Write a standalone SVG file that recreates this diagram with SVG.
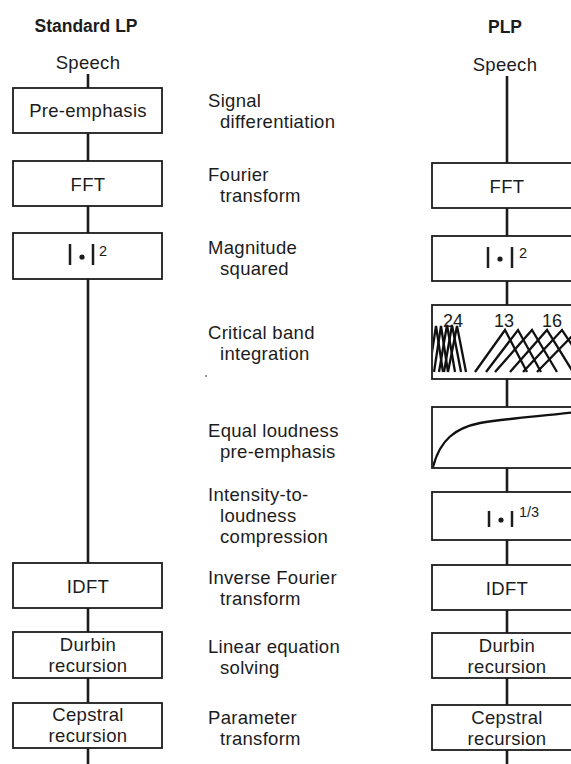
<svg xmlns="http://www.w3.org/2000/svg" width="571" height="764" viewBox="0 0 571 764">
<defs>
<style>
text{font-family:"Liberation Sans",Arial,sans-serif;fill:#1c1c1c;font-size:18.5px;letter-spacing:0.3px}
.t{font-weight:bold;font-size:17.5px;letter-spacing:0}
.c{text-anchor:middle}
.box{fill:#fff;stroke:#1c1c1c;stroke-width:1.8}
.con{stroke:#1c1c1c;stroke-width:2.6;fill:none}
.bar{stroke:#1c1c1c;stroke-width:2.5}
.sup{font-size:14.5px;letter-spacing:0}
.cb{fill:none;stroke:#111;stroke-width:2.3;stroke-linejoin:miter}
.num{font-size:18px;letter-spacing:0}
</style>
<clipPath id="cbclip"><rect x="433" y="306" width="150" height="72"/></clipPath>
<clipPath id="elclip"><rect x="433" y="408" width="150" height="59"/></clipPath>
</defs>
<rect width="571" height="764" fill="#fff"/>

<g id="connectors">
<line class="con" x1="88" y1="74" x2="88" y2="88"/>
<line class="con" x1="88" y1="133" x2="88" y2="161"/>
<line class="con" x1="88" y1="206" x2="88" y2="233"/>
<line class="con" x1="88" y1="279" x2="88" y2="563"/>
<line class="con" x1="88" y1="608" x2="88" y2="632"/>
<line class="con" x1="88" y1="678" x2="88" y2="703"/>
<line class="con" x1="88" y1="748" x2="88" y2="764"/>
<line class="con" x1="507" y1="76" x2="507" y2="163"/>
<line class="con" x1="507" y1="208" x2="507" y2="236"/>
<line class="con" x1="507" y1="281" x2="507" y2="305"/>
<line class="con" x1="507" y1="379" x2="507" y2="407"/>
<line class="con" x1="507" y1="468" x2="507" y2="492"/>
<line class="con" x1="507" y1="540" x2="507" y2="565"/>
<line class="con" x1="507" y1="610" x2="507" y2="633"/>
<line class="con" x1="507" y1="678" x2="507" y2="705"/>
<line class="con" x1="507" y1="750" x2="507" y2="764"/>
</g>

<g id="title-lp"><text class="t c" x="86" y="32">Standard LP</text></g>
<g id="title-plp"><text class="t c" x="505" y="33">PLP</text></g>
<g id="speech-lp"><text class="c" x="88" y="69">Speech</text></g>
<g id="speech-plp"><text class="c" x="505" y="71">Speech</text></g>

<g id="lp-preemphasis"><rect class="box" x="13" y="88" width="149" height="45"/><text class="c" x="88" y="117">Pre-emphasis</text></g>
<g id="lp-fft"><rect class="box" x="13" y="161" width="149" height="45"/><text class="c" x="88" y="191">FFT</text></g>
<g id="lp-mag"><rect class="box" x="13" y="233" width="149" height="46"/>
<line class="bar" x1="70" y1="244" x2="70" y2="265"/><circle cx="82" cy="257" r="2.6" fill="#1c1c1c"/><line class="bar" x1="93" y1="244" x2="93" y2="265"/><text class="sup" x="99" y="256">2</text></g>
<g id="lp-idft"><rect class="box" x="13" y="563" width="149" height="45"/><text class="c" x="88" y="593">IDFT</text></g>
<g id="lp-durbin"><rect class="box" x="13" y="632" width="149" height="46"/><text class="c" x="88" y="651">Durbin</text><text class="c" x="88" y="672">recursion</text></g>
<g id="lp-cepstral"><rect class="box" x="13" y="703" width="149" height="45"/><text class="c" x="88" y="721">Cepstral</text><text class="c" x="88" y="742">recursion</text></g>

<g id="labels">
<text x="208" y="107">Signal</text><text x="220" y="128">differentiation</text>
<text x="208" y="181">Fourier</text><text x="220" y="202">transform</text>
<text x="208" y="254">Magnitude</text><text x="220" y="275">squared</text>
<text x="208" y="339">Critical band</text><text x="220" y="360">integration</text>
<text x="208" y="437">Equal loudness</text><text x="220" y="458">pre-emphasis</text>
<text x="208" y="501">Intensity-to-</text><text x="220" y="522">loudness</text><text x="220" y="543">compression</text>
<text x="208" y="584">Inverse Fourier</text><text x="220" y="605">transform</text>
<text x="208" y="653">Linear equation</text><text x="220" y="674">solving</text>
<text x="208" y="724">Parameter</text><text x="220" y="745">transform</text>
<circle cx="206" cy="376" r="1" fill="#777"/>
</g>

<g id="plp-fft"><rect class="box" x="432" y="163" width="150" height="45"/><text class="c" x="507" y="193">FFT</text></g>
<g id="plp-mag"><rect class="box" x="432" y="236" width="150" height="45"/>
<line class="bar" x1="488" y1="247" x2="488" y2="268"/><circle cx="500" cy="259" r="2.6" fill="#1c1c1c"/><line class="bar" x1="512" y1="247" x2="512" y2="268"/><text class="sup" x="519" y="258">2</text></g>
<g id="plp-critical-band"><rect class="box" x="432" y="305" width="150" height="74"/>
<g clip-path="url(#cbclip)">
<polyline class="cb" points="429,372 436,326 443,372"/>
<polyline class="cb" points="434,372 441,326 448,372"/>
<polyline class="cb" points="439,372 447,325 455,372"/>
<polyline class="cb" points="444,372 452,325 461,372"/>
<polyline class="cb" points="448,372 457,326 466,372"/>
<polyline class="cb" points="475,372 505,330 527,372"/>
<polyline class="cb" points="486,372 518,330 541,372"/>
<polyline class="cb" points="495,372 532,330 557,372"/>
<polyline class="cb" points="510,372 547,330 573,372"/>
<polyline class="cb" points="523,372 562,330 590,372"/>
<polyline class="cb" points="537,372 578,330 607,372"/>
</g>
<text class="num" x="443" y="327">24</text><text class="num" x="494" y="327">13</text><text class="num" x="542" y="327">16</text></g>
<g id="plp-equal-loudness"><rect class="box" x="432" y="407" width="150" height="61"/>
<path class="cb" clip-path="url(#elclip)" d="M433,467 C440,440 455,428 480,423 C510,418 545,416 585,411"/></g>
<g id="plp-compression"><rect class="box" x="432" y="492" width="150" height="48"/>
<line class="bar" x1="489" y1="511" x2="489" y2="527"/><circle cx="501" cy="520" r="2.6" fill="#1c1c1c"/><line class="bar" x1="512" y1="511" x2="512" y2="527"/><text class="sup" x="519" y="517">1/3</text></g>
<g id="plp-idft"><rect class="box" x="432" y="565" width="150" height="45"/><text class="c" x="507" y="595">IDFT</text></g>
<g id="plp-durbin"><rect class="box" x="432" y="633" width="150" height="45"/><text class="c" x="507" y="652">Durbin</text><text class="c" x="507" y="673">recursion</text></g>
<g id="plp-cepstral"><rect class="box" x="432" y="705" width="150" height="45"/><text class="c" x="507" y="724">Cepstral</text><text class="c" x="507" y="745">recursion</text></g>
</svg>
